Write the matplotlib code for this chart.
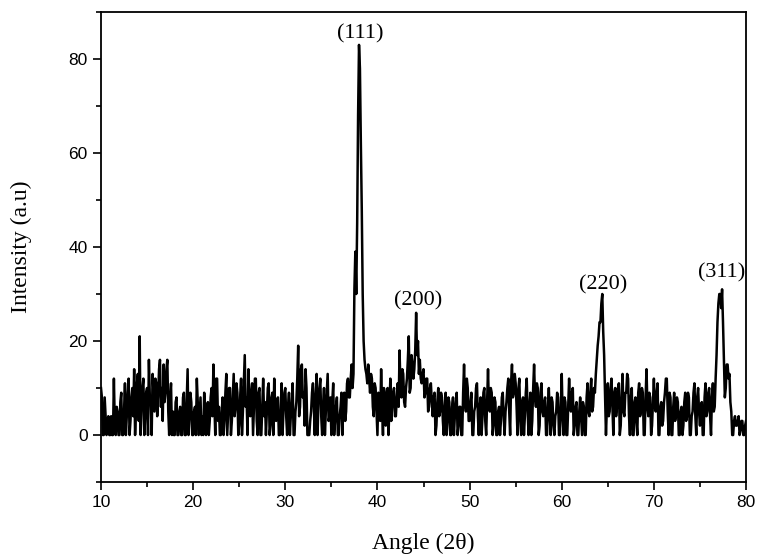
import numpy as np
import matplotlib
matplotlib.use("Agg")
import matplotlib.pyplot as plt
from matplotlib.ticker import MultipleLocator

# XRD pattern at 0.1 degree steps (10 .. 80)
angle_start = 10.0
angle_step = 0.1
intensity = [
    10, 8, 0, 0, 8, 4, 0, 3, 4, 0,          # 10
    0, 4, 0, 0, 12, 2, 0, 6, 5, 0,          # 11
    0, 7, 9, 0, 0, 5, 11, 0, 4, 9,          # 12
    12, 0, 3, 8, 10, 4, 14, 0, 6, 11,       # 13
    13, 3, 21, 0, 6, 10, 12, 0, 4, 9,       # 14
    10, 0, 16, 8, 7, 0, 13, 9, 5, 12,       # 15
    11, 4, 8, 14, 16, 6, 10, 3, 15, 7,      # 16
    9, 14, 16, 5, 0, 8, 11, 0, 5, 0,        # 17
    0, 7, 8, 0, 0, 5, 6, 0, 0, 8,           # 18
    9, 0, 0, 7, 14, 0, 4, 9, 7, 0,          # 19
    0, 5, 6, 0, 12, 7, 0, 4, 8, 0,          # 20
    4, 0, 9, 5, 0, 6, 7, 0, 3, 8,           # 21
    10, 4, 15, 7, 0, 12, 12, 3, 6, 0,       # 22
    0, 5, 8, 0, 3, 9, 13, 0, 5, 10,         # 23
    10, 0, 3, 8, 13, 4, 6, 11, 9, 0,        # 24
    2, 8, 12, 0, 5, 11, 17, 6, 8, 0,        # 25
    14, 7, 4, 9, 11, 0, 6, 12, 12, 3,       # 26
    0, 9, 10, 0, 0, 6, 12, 4, 7, 0,         # 27
    5, 10, 11, 0, 2, 8, 9, 0, 12, 6,        # 28
    3, 7, 8, 0, 0, 5, 11, 0, 5, 9,          # 29
    10, 4, 0, 6, 9, 0, 4, 7, 11, 0,         # 30
    0, 5, 7, 12, 19, 4, 6, 14, 15, 8,       # 31
    9, 2, 14, 10, 0, 0, 0, 3, 5, 9,         # 32
    11, 6, 0, 8, 13, 0, 7, 10, 12, 4,       # 33
    0, 6, 10, 0, 5, 9, 13, 3, 4, 8,         # 34
    0, 7, 11, 0, 3, 6, 8, 0, 0, 4,          # 35
    6, 9, 0, 7, 9, 3, 5, 11, 12, 8,         # 36
    8, 12, 15, 10, 13, 31, 39, 30, 45, 68,  # 37
    83, 78, 62, 48, 30, 20, 16, 14, 13, 11, # 38
    15, 12, 9, 13, 12, 6, 4, 11, 10, 5,     # 39
    0, 9, 8, 3, 14, 6, 0, 10, 9, 2,         # 40
    5, 10, 0, 6, 12, 3, 6, 9, 10, 4,        # 41
    4, 8, 11, 6, 18, 10, 8, 14, 13, 7,      # 42
    6, 10, 12, 16, 21, 9, 10, 17, 15, 12,   # 43
    14, 18, 26, 17, 20, 13, 16, 12, 11, 13, # 44
    14, 8, 9, 12, 12, 5, 6, 10, 11, 7,      # 45
    4, 8, 9, 0, 2, 7, 10, 4, 5, 9,          # 46
    8, 3, 0, 6, 9, 0, 3, 8, 7, 0,           # 47
    0, 6, 8, 0, 4, 7, 9, 0, 2, 6,           # 48
    6, 0, 0, 9, 15, 7, 5, 12, 10, 3,        # 49
    3, 7, 9, 0, 0, 5, 6, 10, 11, 4,         # 50
    0, 6, 8, 0, 4, 9, 10, 3, 0, 7,          # 51
    14, 6, 5, 10, 9, 0, 2, 8, 7, 0,         # 52
    0, 5, 6, 0, 3, 8, 9, 4, 0, 5,           # 53
    7, 10, 12, 5, 0, 11, 15, 8, 9, 13,      # 54
    11, 6, 0, 10, 12, 3, 0, 7, 8, 0,        # 55
    4, 9, 12, 5, 0, 6, 9, 0, 3, 10,         # 56
    15, 8, 6, 11, 10, 0, 2, 9, 11, 5,       # 57
    4, 7, 8, 0, 0, 6, 10, 4, 0, 8,          # 58
    7, 2, 0, 4, 5, 9, 8, 0, 0, 6,           # 59
    13, 4, 0, 8, 7, 0, 0, 6, 12, 7,         # 60
    5, 9, 10, 0, 2, 6, 7, 0, 0, 5,          # 61
    8, 4, 0, 7, 6, 0, 0, 8, 11, 5,          # 62
    4, 9, 12, 5, 6, 10, 9, 13, 16, 19,      # 63
    21, 24, 24, 28, 30, 22, 17, 8, 0, 6,    # 64
    11, 4, 5, 10, 12, 6, 0, 9, 10, 4,       # 65
    6, 10, 11, 0, 2, 8, 13, 5, 4, 9,        # 66
    9, 13, 12, 4, 0, 8, 10, 0, 0, 7,        # 67
    8, 3, 0, 9, 11, 4, 5, 10, 9, 0,         # 68
    0, 8, 14, 6, 4, 9, 8, 0, 2, 7,          # 69
    12, 6, 5, 9, 11, 0, 0, 6, 7, 2,         # 70
    3, 7, 9, 12, 12, 5, 0, 9, 8, 0,         # 71
    0, 6, 9, 3, 4, 8, 7, 0, 0, 5,           # 72
    6, 0, 2, 7, 9, 3, 4, 9, 8, 0,           # 73
    0, 4, 5, 9, 11, 4, 0, 8, 10, 5,         # 74
    2, 6, 7, 0, 0, 8, 11, 4, 5, 9,          # 75
    10, 4, 0, 8, 11, 5, 6, 12, 17, 24,      # 76
    28, 30, 30, 27, 31, 24, 16, 8, 10, 15,  # 77
    15, 12, 13, 7, 5, 0, 0, 3, 4, 2,        # 78
    2, 3, 4, 0, 1, 3, 3, 0, 0, 2,           # 79
    3,                                      # 80
]
angle = angle_start + angle_step * np.arange(len(intensity))

peak_labels = ["(111)", "(200)", "(220)", "(311)"]
peak_x = [38.1, 44.4, 64.5, 77.3]
peak_y = [83.3, 26.6, 30.0, 32.4]

fig = plt.figure(figsize=(7.68, 5.57), dpi=100)
ax = fig.add_axes([0.1315, 0.1346, 0.8399, 0.8439])

ax.plot(angle, intensity, color="black", lw=1.8)

for lab, px, py in zip(peak_labels, peak_x, peak_y):
    ax.text(px, py, lab, ha="center", va="bottom", fontsize=16,
            family="Liberation Serif")

ax.set_xlim(10, 80)
ax.set_ylim(-10, 90)
ax.xaxis.set_major_locator(MultipleLocator(10))
ax.xaxis.set_minor_locator(MultipleLocator(5))
ax.yaxis.set_major_locator(MultipleLocator(20))
ax.yaxis.set_minor_locator(MultipleLocator(10))
ax.tick_params(which="both", direction="out", width=1.2, labelsize=12.5)
ax.tick_params(which="major", length=6)
ax.tick_params(which="minor", length=3.5)
for lab in ax.get_xticklabels() + ax.get_yticklabels():
    lab.set_family("Liberation Sans")
for s in ax.spines.values():
    s.set_linewidth(1.3)

ax.set_xlabel("Angle (2θ)", fontsize=17, family="Liberation Serif", labelpad=16)
ax.set_ylabel("Intensity (a.u)", fontsize=17, family="Liberation Serif", labelpad=26)

fig.savefig("out.png", dpi=100)
